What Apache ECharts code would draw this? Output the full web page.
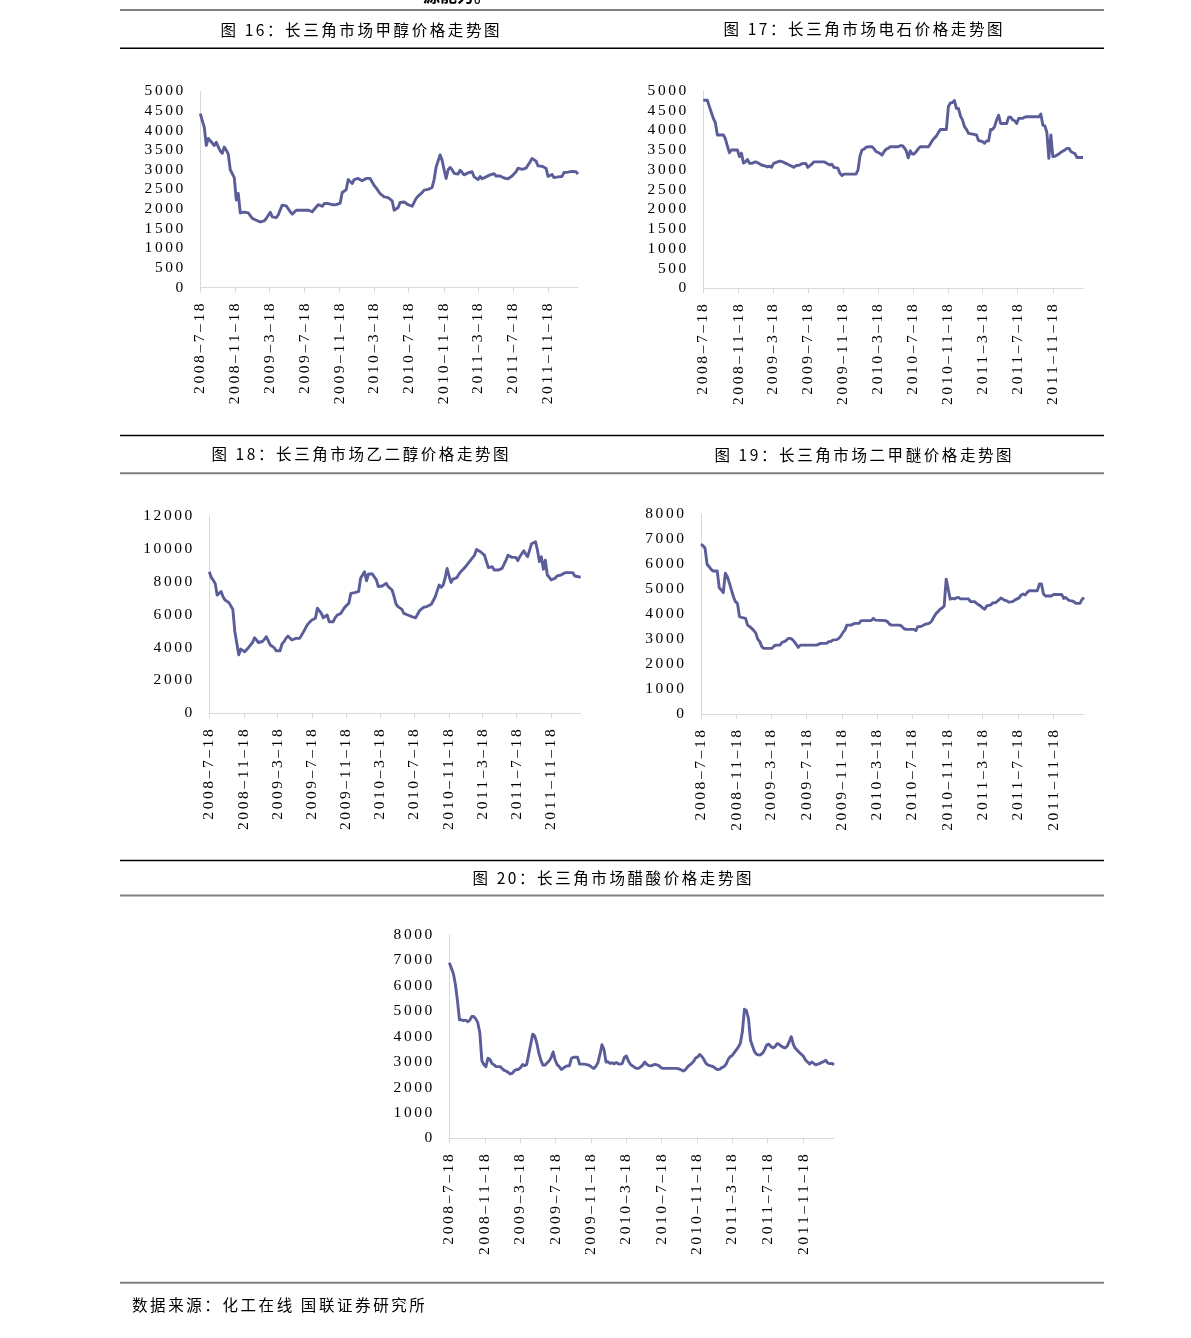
<!DOCTYPE html>
<html><head><meta charset="utf-8">
<script src="https://cdn.jsdelivr.net/npm/echarts@6/dist/echarts.min.js"></script>
<style>html,body{margin:0;padding:0;background:#fff}#c{width:1191px;height:1338px}</style>
</head><body><div id="c"></div><script>
// ---------- DATA ----------
// Weekly prices (yuan/ton); week index = weeks since 2008-7-18.
const END_WEEK = 189;
const tickLabels = ['2008-7-18','2008-11-18','2009-3-18','2009-7-18','2009-11-18','2010-3-18','2010-7-18','2010-11-18','2011-3-18','2011-7-18','2011-11-18'];
const titles = ['图 16：长三角市场甲醇价格走势图','图 17：长三角市场电石价格走势图','图 18：长三角市场乙二醇价格走势图','图 19：长三角市场二甲醚价格走势图','图 20：长三角市场醋酸价格走势图'];
const sourceNote = '数据来源：化工在线 国联证券研究所';
const clippedHeader = '源能力。';
const yMax = [5000, 5000, 12000, 8000, 8000];
const yStep = [500, 500, 2000, 1000, 1000];

// 甲醇 (methanol): one value per week
const methanol = [4430,4250,4080,3620,3800,3740,3700,3620,3700,3580,3480,3420,3580,3500,3400,3000,2900,2800,2230,2400,
1900,1900,1920,1920,1900,1870,1760,1720,1715,1690,1670,1660,1700,1760,1800,1920,1800,1770,1780,1850,
1980,2100,2110,2080,2050,1930,1870,1860,1970,1970,1970,1970,1970,1970,1970,1940,1930,1960,2050,2110,
2110,2070,2140,2140,2140,2120,2110,2110,2110,2110,2150,2420,2460,2490,2750,2720,2650,2750,2770,2780,
2790,2720,2760,2780,2800,2780,2730,2600,2540,2500,2390,2350,2310,2310,2290,2260,2210,1970,1990,2040,
2170,2180,2180,2130,2110,2090,2070,2170,2270,2330,2350,2420,2480,2470,2500,2520,2550,2750,3070,3100,
3380,3240,3000,2780,3000,3060,3000,2910,2890,2890,2990,2930,2870,2880,2920,2970,2950,2820,2800,2750,
2830,2770,2780,2820,2850,2870,2890,2900,2840,2840,2840,2820,2790,2740,2770,2800,2840,2880,2950,3040,
3040,3010,2990,3040,3120,3200,3290,3260,3220,3100,3090,3090,3070,3040,2830,2860,2880,2800,2800,2820,
2820,2830,2930,2880,2940,2980,2960,2950,2950,2890];

// 电石 (calcium carbide): [week, value]
const carbide = [[0,4760],[2,4760],[3,4600],[4,4450],[5,4300],[6,4190],[7,3880],[10,3880],[11,3780],[12,3600],[13,3430],[14,3500],[17,3500],[18,3330],[19,3420],[20,3170],[21,3200],[22,3260],[23,3160],[24,3160],[26,3200],[27,3180],[29,3120],[31,3090],[32,3070],[33,3090],[34,3060],[35,3160],[36,3180],[38,3220],[40,3190],[41,3160],[42,3140],[44,3090],[45,3060],[46,3100],[48,3120],[49,3150],[51,3160],[52,3060],[54,3140],[55,3200],[60,3200],[61,3180],[63,3120],[64,3140],[65,3060],[67,3040],[68,2910],[69,2850],[70,2890],[76,2890],[77,2990],[78,3350],[79,3500],[80,3520],[81,3570],[82,3580],[84,3580],[85,3530],[86,3460],[88,3410],[89,3370],[90,3460],[91,3520],[92,3540],[93,3580],[97,3580],[98,3610],[99,3610],[100,3560],[101,3480],[102,3300],[103,3480],[104,3400],[105,3400],[106,3460],[107,3530],[108,3580],[112,3580],[113,3650],[114,3740],[115,3800],[116,3850],[117,3940],[118,4020],[121,4020],[122,4600],[123,4690],[124,4700],[125,4750],[126,4550],[127,4550],[128,4360],[129,4260],[130,4090],[131,4020],[132,3920],[134,3900],[136,3880],[137,3740],[139,3710],[140,3670],[141,3730],[142,3730],[143,4020],[144,4020],[145,4090],[146,4260],[147,4380],[148,4170],[151,4170],[152,4330],[153,4330],[154,4260],[155,4240],[156,4170],[157,4300],[159,4300],[160,4330],[161,4340],[167,4340],[168,4410],[169,4130],[170,4110],[171,3950],[172,3290],[173,3880],[174,3330],[175,3340],[177,3400],[178,3440],[180,3500],[181,3540],[182,3540],[183,3460],[184,3430],[185,3410],[186,3310],[189,3310]];

// 乙二醇 (ethylene glycol): [week, value]
const glycol = [[0,8600],[1,8250],[2,8080],[3,7880],[4,7180],[5,7180],[6,7400],[7,7080],[8,6880],[9,6780],[10,6720],[11,6720],[12,6300],[13,4960],[14,4250],[15,3550],[16,3900],[17,3880],[18,3740],[19,3850],[20,4000],[21,4050],[22,4300],[23,4590],[24,4450],[25,4300],[26,4320],[27,4360],[28,4490],[29,4650],[30,4690],[31,4150],[32,4050],[33,3990],[34,3800],[36,3800],[37,4210],[38,4350],[39,4550],[40,4690],[41,4690],[42,4450],[43,4450],[44,4550],[46,4550],[47,4650],[48,4960],[49,5060],[50,5400],[51,5500],[52,5650],[53,5750],[54,5770],[55,6380],[56,6430],[57,6070],[58,5800],[59,5910],[60,5970],[61,5560],[63,5560],[64,5800],[65,5950],[66,6000],[67,6070],[68,6270],[69,6450],[70,6550],[71,6680],[72,7280],[73,7330],[74,7330],[75,7240],[76,7400],[77,8200],[78,8400],[79,8600],[80,8050],[81,8460],[83,8460],[84,8380],[85,8100],[86,7700],[87,7650],[88,7730],[89,7730],[90,7890],[91,7700],[92,7650],[93,7490],[94,7100],[95,6650],[96,6480],[97,6520],[98,6310],[99,6070],[100,6000],[101,5970],[102,5930],[103,5870],[104,5770],[105,5800],[106,5830],[107,6230],[108,6280],[109,6430],[110,6430],[111,6500],[112,6580],[113,6620],[114,6580],[115,7080],[116,7450],[117,7790],[118,7650],[119,7790],[120,8200],[121,8800],[122,8340],[123,7950],[124,8150],[125,8240],[126,8240],[127,8450],[128,8600],[129,8680],[130,8850],[131,9000],[132,9150],[133,9300],[134,9400],[135,9610],[136,9950],[137,9900],[138,9810],[139,9710],[140,9610],[141,9610],[142,8850],[143,8880],[144,8900],[145,8700],[146,8800],[147,8700],[148,8800],[149,8800],[150,8900],[151,9300],[152,9600],[153,9550],[154,9470],[156,9470],[157,9270],[158,9510],[159,9610],[160,9870],[161,9670],[162,9510],[163,9600],[164,10300],[165,10420],[166,10420],[167,9900],[168,9210],[169,9500],[170,8740],[171,9300],[172,8400],[173,8260],[174,8100],[175,8050],[176,8200],[177,8350],[178,8250],[179,8400],[180,8500],[181,8540],[185,8540],[186,8340],[187,8260],[189,8260]];

// 二甲醚 (DME): [week, value]
const dme = [[0,6800],[1,6740],[2,6640],[3,6000],[4,5900],[5,5790],[6,5730],[8,5730],[9,5060],[10,4970],[11,4860],[12,5640],[13,5500],[14,5250],[15,4970],[16,4700],[17,4500],[18,4430],[19,3900],[20,3870],[21,3850],[22,3830],[23,3560],[24,3500],[25,3430],[26,3350],[27,3250],[28,3000],[29,2900],[30,2700],[31,2630],[35,2630],[36,2720],[37,2760],[39,2760],[40,2870],[41,2900],[42,2940],[43,3030],[44,3030],[45,2990],[46,2900],[47,2790],[48,2670],[49,2760],[57,2760],[58,2790],[59,2830],[62,2830],[63,2900],[64,2900],[65,2960],[67,2980],[68,3030],[69,3120],[70,3260],[71,3360],[72,3560],[74,3560],[75,3600],[76,3630],[78,3630],[79,3740],[84,3740],[85,3830],[86,3760],[91,3740],[92,3700],[93,3600],[94,3560],[98,3560],[99,3520],[100,3430],[101,3390],[105,3390],[106,3340],[107,3500],[108,3500],[109,3520],[110,3570],[111,3600],[112,3620],[113,3650],[114,3740],[115,3900],[116,4030],[117,4100],[118,4200],[119,4250],[120,4330],[121,5400],[122,5000],[123,4600],[124,4630],[125,4610],[126,4650],[127,4670],[128,4610],[132,4610],[133,4500],[135,4500],[136,4430],[137,4370],[138,4330],[139,4250],[140,4200],[141,4330],[142,4350],[143,4370],[144,4460],[145,4450],[146,4500],[147,4570],[148,4650],[149,4600],[150,4550],[151,4530],[152,4480],[153,4490],[154,4510],[155,4570],[156,4610],[157,4650],[158,4770],[159,4810],[160,4770],[161,4870],[162,4940],[166,4940],[167,5210],[168,5210],[169,4810],[170,4730],[173,4730],[174,4790],[178,4790],[179,4630],[180,4670],[181,4590],[182,4540],[183,4530],[184,4500],[185,4430],[187,4430],[188,4590],[189,4670]];

// 醋酸 (acetic acid): one value per week
const acetic = [6910,6700,6480,6050,5420,4660,4660,4630,4650,4590,4640,4790,4790,4700,4550,4150,3050,2900,2820,3150,
3100,2940,2890,2820,2820,2820,2740,2670,2640,2590,2530,2560,2660,2710,2710,2780,2900,2860,2900,3300,
3700,4100,4020,3740,3350,3070,2880,2880,2960,3040,3170,3400,3080,2900,2820,2710,2760,2820,2850,2850,
3150,3190,3190,3190,2920,2920,2920,2910,2890,2860,2800,2750,2830,2970,3300,3680,3490,3000,3010,2950,
2970,2930,2980,2930,2920,2950,3180,3240,3040,2910,2850,2800,2750,2750,2810,2880,3000,2910,2860,2850,
2880,2910,2890,2860,2780,2750,2750,2750,2750,2750,2750,2750,2750,2720,2690,2650,2700,2800,2880,2940,
3020,3160,3200,3300,3230,3110,2960,2890,2860,2840,2800,2730,2700,2720,2790,2820,2920,3100,3210,3260,
3370,3480,3590,3740,4200,5080,5020,4700,3850,3620,3400,3300,3280,3290,3360,3500,3680,3700,3610,3560,
3600,3720,3700,3630,3580,3560,3630,3800,4000,3700,3540,3460,3380,3300,3230,3080,3000,2920,3000,2950,
2890,2920,2940,2990,3020,3070,2960,2940,2950,2890];

const seriesData = [methanol, carbide, glycol, dme, acetic];

// ---------- HELPERS ----------
function dayStr(d) {
  const t = new Date(Date.UTC(2008, 6, 18) + d * 86400000);
  return t.getUTCFullYear() + '-' + (t.getUTCMonth() + 1) + '-' + t.getUTCDate();
}
const days = [];
for (let d = 0; d <= END_WEEK * 7; d++) days.push(dayStr(d));
const tickSet = new Set(tickLabels);
const toSeries = arr => arr.map((p, i) => Array.isArray(p) ? [dayStr(p[0] * 7), p[1]] : [dayStr(i * 7), p]);
const SP = '\u2006';
const spaced = s => s.split('').join(SP);

// ---------- LAYOUT ----------
const grids = [
  {left: 200.3, top: 91.3, width: 377.7, height: 196.2},
  {left: 703.3, top: 90.7, width: 379.7, height: 197.6},
  {left: 209.3, top: 515.7, width: 371.4, height: 197.6},
  {left: 701, top: 514.3, width: 383, height: 199.7},
  {left: 449.3, top: 935, width: 384.7, height: 203.3}
];
const titlePos = [[360, 30], [863, 29], [360, 454], [863, 455], [612, 878]];
const FONT_SERIF = '"Liberation Serif", "Times New Roman", serif';
const FONT_CJK = '"Noto Sans CJK SC", sans-serif';

const chart = echarts.init(document.getElementById('c'), null, {renderer: 'canvas'});
const option = {
  animation: false,
  backgroundColor: '#ffffff',
  grid: grids.map(g => Object.assign({containLabel: false, outerBoundsMode: 'none'}, g)),
  xAxis: grids.map((g, i) => ({
    type: 'category', gridIndex: i, data: days, boundaryGap: false,
    axisLine: {show: true, lineStyle: {color: '#D9D9D9', width: 1}},
    axisTick: {show: true, interval: (idx, val) => tickSet.has(val), length: 5, lineStyle: {color: '#D9D9D9'}},
    axisLabel: {
      interval: (idx, val) => tickSet.has(val), rotate: 90, margin: 16,
      fontFamily: FONT_SERIF, fontSize: 15.5, color: '#000',
      formatter: v => spaced(v.replace(/-/g, '\u2013'))
    },
    splitLine: {show: false}
  })),
  yAxis: grids.map((g, i) => ({
    type: 'value', gridIndex: i, min: 0, max: yMax[i], interval: yStep[i],
    axisLine: {show: true, lineStyle: {color: '#D9D9D9', width: 1}},
    axisTick: {show: false},
    splitLine: {show: false},
    axisLabel: {margin: 17, fontFamily: FONT_SERIF, fontSize: 15.5, color: '#000', formatter: v => spaced(String(v))}
  })),
  series: seriesData.map((arr, i) => ({
    type: 'line', xAxisIndex: i, yAxisIndex: i, data: toSeries(arr),
    showSymbol: false, symbol: 'none', silent: true,
    lineStyle: {color: '#5B5D99', width: 2.9, join: 'round'}
  })),
  graphic: [
    // horizontal rules
    {type: 'line', shape: {x1: 120, y1: 10, x2: 1104, y2: 10}, style: {stroke: '#808080', lineWidth: 2}},
    {type: 'line', shape: {x1: 120, y1: 48.3, x2: 1104, y2: 48.3}, style: {stroke: '#000', lineWidth: 1.5}},
    {type: 'line', shape: {x1: 120, y1: 435.5, x2: 1104, y2: 435.5}, style: {stroke: '#000', lineWidth: 1.5}},
    {type: 'line', shape: {x1: 120, y1: 473.3, x2: 1104, y2: 473.3}, style: {stroke: '#808080', lineWidth: 2}},
    {type: 'line', shape: {x1: 120, y1: 860.5, x2: 1104, y2: 860.5}, style: {stroke: '#000', lineWidth: 1.5}},
    {type: 'line', shape: {x1: 120, y1: 895.5, x2: 1104, y2: 895.5}, style: {stroke: '#808080', lineWidth: 2}},
    {type: 'line', shape: {x1: 120, y1: 1282.7, x2: 1104, y2: 1282.7}, style: {stroke: '#808080', lineWidth: 2}},
    // clipped header from previous page
    {type: 'text', x: 423, y: 4, style: {text: clippedHeader, font: 'bold 17px ' + FONT_CJK, fill: '#000', textAlign: 'left', textVerticalAlign: 'bottom'}},
    // titles
    ...titles.map((t, i) => ({type: 'text', x: titlePos[i][0], y: titlePos[i][1],
      style: {text: spaced(t), font: '15.5px ' + FONT_CJK, fill: '#000', textAlign: 'center', textVerticalAlign: 'middle'}})),
    {type: 'text', x: 132, y: 1305, style: {text: spaced(sourceNote), font: '15.5px ' + FONT_CJK, fill: '#000', textAlign: 'left', textVerticalAlign: 'middle'}}
  ]
};
chart.setOption(option);
</script></body></html>
